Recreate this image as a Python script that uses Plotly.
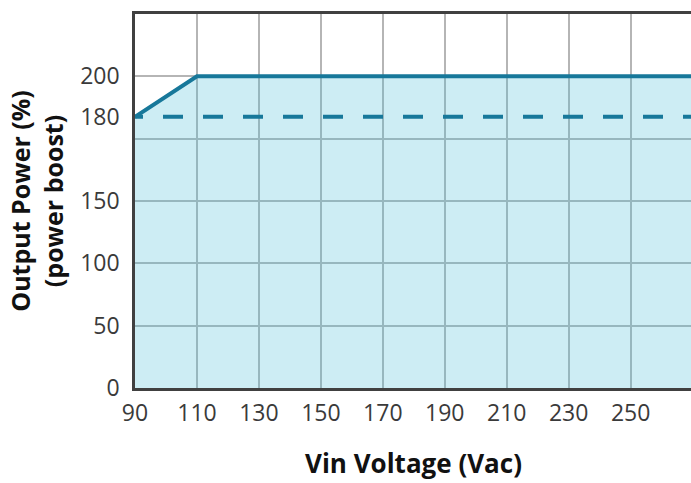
import numpy as np
import plotly.graph_objects as go

# Data
vin = [90, 110, 270]                 # Vin Voltage (Vac)
power_boost = [180, 200, 200]        # Output power (%) – power boost curve
dashed_level = 180                   # constant 180 % line
x_ticks = [90, 110, 130, 150, 170, 190, 210, 230, 250]

# The reference y axis is schematic: labels sit at these axis positions
y_tick_labels = [0, 50, 100, 150, 180, 200]
y_tick_positions = [0, 50, 100, 150, 217.5, 250]


def yscale(v):
    return np.interp(v, y_tick_labels, y_tick_positions)


line_color = "#17789a"
fill_color = "rgba(70,188,214,0.27)"
dash_style = "8px,20px," + ",".join(["20px"] * 30)

fig = go.Figure()
fig.add_trace(go.Scatter(
    x=vin, y=yscale(power_boost), mode="lines",
    line=dict(color=line_color, width=4),
    fill="tozeroy", fillcolor=fill_color, hoverinfo="skip",
))
fig.add_trace(go.Scatter(
    x=[vin[0], vin[-1]], y=yscale([dashed_level, dashed_level]), mode="lines",
    line=dict(color=line_color, width=4, dash=dash_style), hoverinfo="skip",
))

fig.update_layout(
    width=691, height=483,
    margin=dict(l=135, r=0, t=14, b=95),
    plot_bgcolor="white", paper_bgcolor="white",
    showlegend=False,
    font=dict(family="Open Sans", color="#3a3a3a", size=23),
    annotations=[dict(
        text="<b>Vin Voltage (Vac)</b>", xref="paper", yref="paper",
        x=0.5, y=-0.2, xanchor="center", yanchor="middle", showarrow=False,
        font=dict(size=26, color="#111"),
    )],
)
fig.update_xaxes(
    range=[90, 269.5], tickvals=x_ticks, ticktext=[str(v) for v in x_ticks],
    showgrid=True, gridcolor="#b5b5b5", gridwidth=2,
    showline=True, linecolor="#404040", linewidth=2.5, mirror=True,
    ticks="", ticklabelstandoff=3, zeroline=False, automargin=False,
)
fig.update_yaxes(
    range=[0, 300], tickvals=y_tick_positions, ticktext=[str(v) for v in y_tick_labels],
    showgrid=False,
    minor=dict(tick0=0, dtick=50, showgrid=True, gridcolor="#b5b5b5", gridwidth=2, ticks=""),
    showline=True, linecolor="#404040", linewidth=2.5, mirror=False,
    ticks="", ticklabelstandoff=8, zeroline=False, automargin=False,
    title=dict(text="<b>Output Power (%)<br>(power boost)</b>", font=dict(size=25, color="#111"), standoff=10),
)

fig.write_html("out.html", config={"displayModeBar": False},
               post_script="document.body.style.margin='0';")
